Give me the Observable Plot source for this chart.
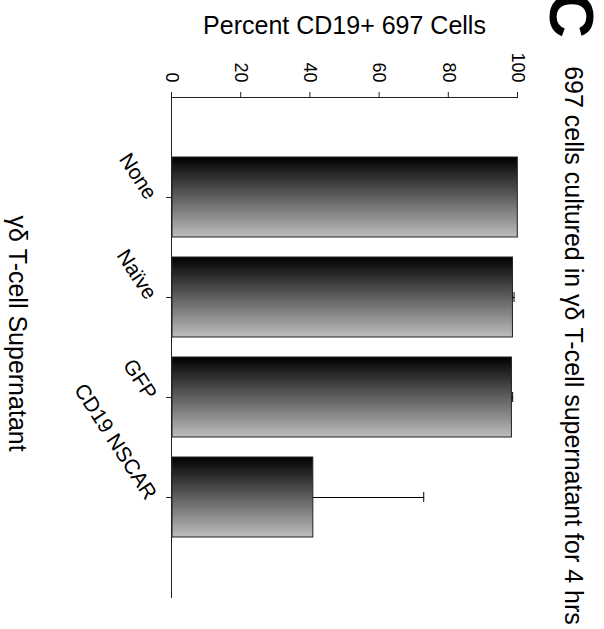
<!DOCTYPE html>
<html>
<head>
<meta charset="utf-8">
<script src="https://cdn.jsdelivr.net/npm/d3@7"></script>
<script src="https://cdn.jsdelivr.net/npm/@observablehq/plot@0.6"></script>
<style>
  html, body { margin: 0; padding: 0; background: white; overflow: hidden; }
  #wrap {
    position: absolute; left: 0; top: 0;
    width: 629px; height: 604px;
    transform-origin: 0 0;
    transform: translate(604px, 0) rotate(90deg);
    background: white;
  }
</style>
</head>
<body>
<div id="wrap"></div>
<script>
const categories = ["None", "Naïve", "GFP", "CD19 NSCAR"];
const values = [99.8, 98.4, 98.1, 40.7];
const errors = [0, 0.6, 0.5, 32.2];
const yTicks = [0, 20, 40, 60, 80, 100];
const panelLetter = "C";
const titleText = "697 cells cultured in γδ T-cell supernatant for 4 hrs";
const yLabel = "Percent CD19+ 697 Cells";
const xLabel = "γδ T-cell Supernatant";

const data = categories.map((c, i) => ({cat: c, value: values[i], err: errors[i]}));
const errData = data.filter(d => d.err > 0);
const FONT = "Liberation Sans, Arial, Helvetica, sans-serif";

const defs = () => {
  const d = d3.create("svg:defs");
  const g = d.append("linearGradient").attr("id", "barGrad")
    .attr("x1", 0).attr("y1", 0).attr("x2", 1).attr("y2", 0);
  g.append("stop").attr("offset", "0%").attr("stop-color", "#000000");
  g.append("stop").attr("offset", "100%").attr("stop-color", "#bdbdbd");
  return d.node();
};

const chart = Plot.plot({
  width: 629,
  height: 604,
  marginLeft: 97,
  marginRight: 32,
  marginTop: 86,
  marginBottom: 172,
  style: {fontFamily: FONT, background: "white", color: "black", overflow: "visible"},
  x: {type: "band", domain: categories, paddingInner: 0.2, paddingOuter: 0.6, axis: null},
  y: {domain: [0, 100], axis: null},
  marks: [
    defs,
    Plot.barY(data, {x: "cat", y: "value", fill: "url(#barGrad)", stroke: "#222", strokeWidth: 1}),
    Plot.ruleX(errData, {x: "cat", y1: "value", y2: d => d.value + d.err, stroke: "#000", strokeWidth: 1}),
    Plot.tickY(errData, {x: "cat", y: d => d.value + d.err, stroke: "#000", strokeWidth: 1, insetLeft: 35, insetRight: 35}),
    Plot.frame({anchor: "left", stroke: "#222"}),
    Plot.frame({anchor: "bottom", stroke: "#222"}),
    Plot.axisY({ticks: yTicks, tickSize: 5, tickPadding: 10, fontSize: 18, label: null, stroke: "#222"}),
    Plot.axisX({tickSize: 6, tickPadding: 14, tickRotate: -33, fontSize: 21, label: null, stroke: "#222"}),
    Plot.text([panelLetter], {frameAnchor: "top-left", dx: -59.5, dy: -77, textAnchor: "end", fontSize: 63, fontWeight: "bold", fill: "black"}),
    Plot.text([titleText], {frameAnchor: "top", textAnchor: "middle", dx: -2, dy: -65, fontSize: 25, fill: "black"}),
    Plot.text([yLabel], {frameAnchor: "left", textAnchor: "middle", rotate: -90, dx: -72, fontSize: 25, fill: "black"}),
    Plot.text([xLabel], {frameAnchor: "bottom", textAnchor: "middle", dx: -14, dy: 163, fontSize: 25, fill: "black"})
  ]
});
document.getElementById("wrap").appendChild(chart);
</script>
</body>
</html>
